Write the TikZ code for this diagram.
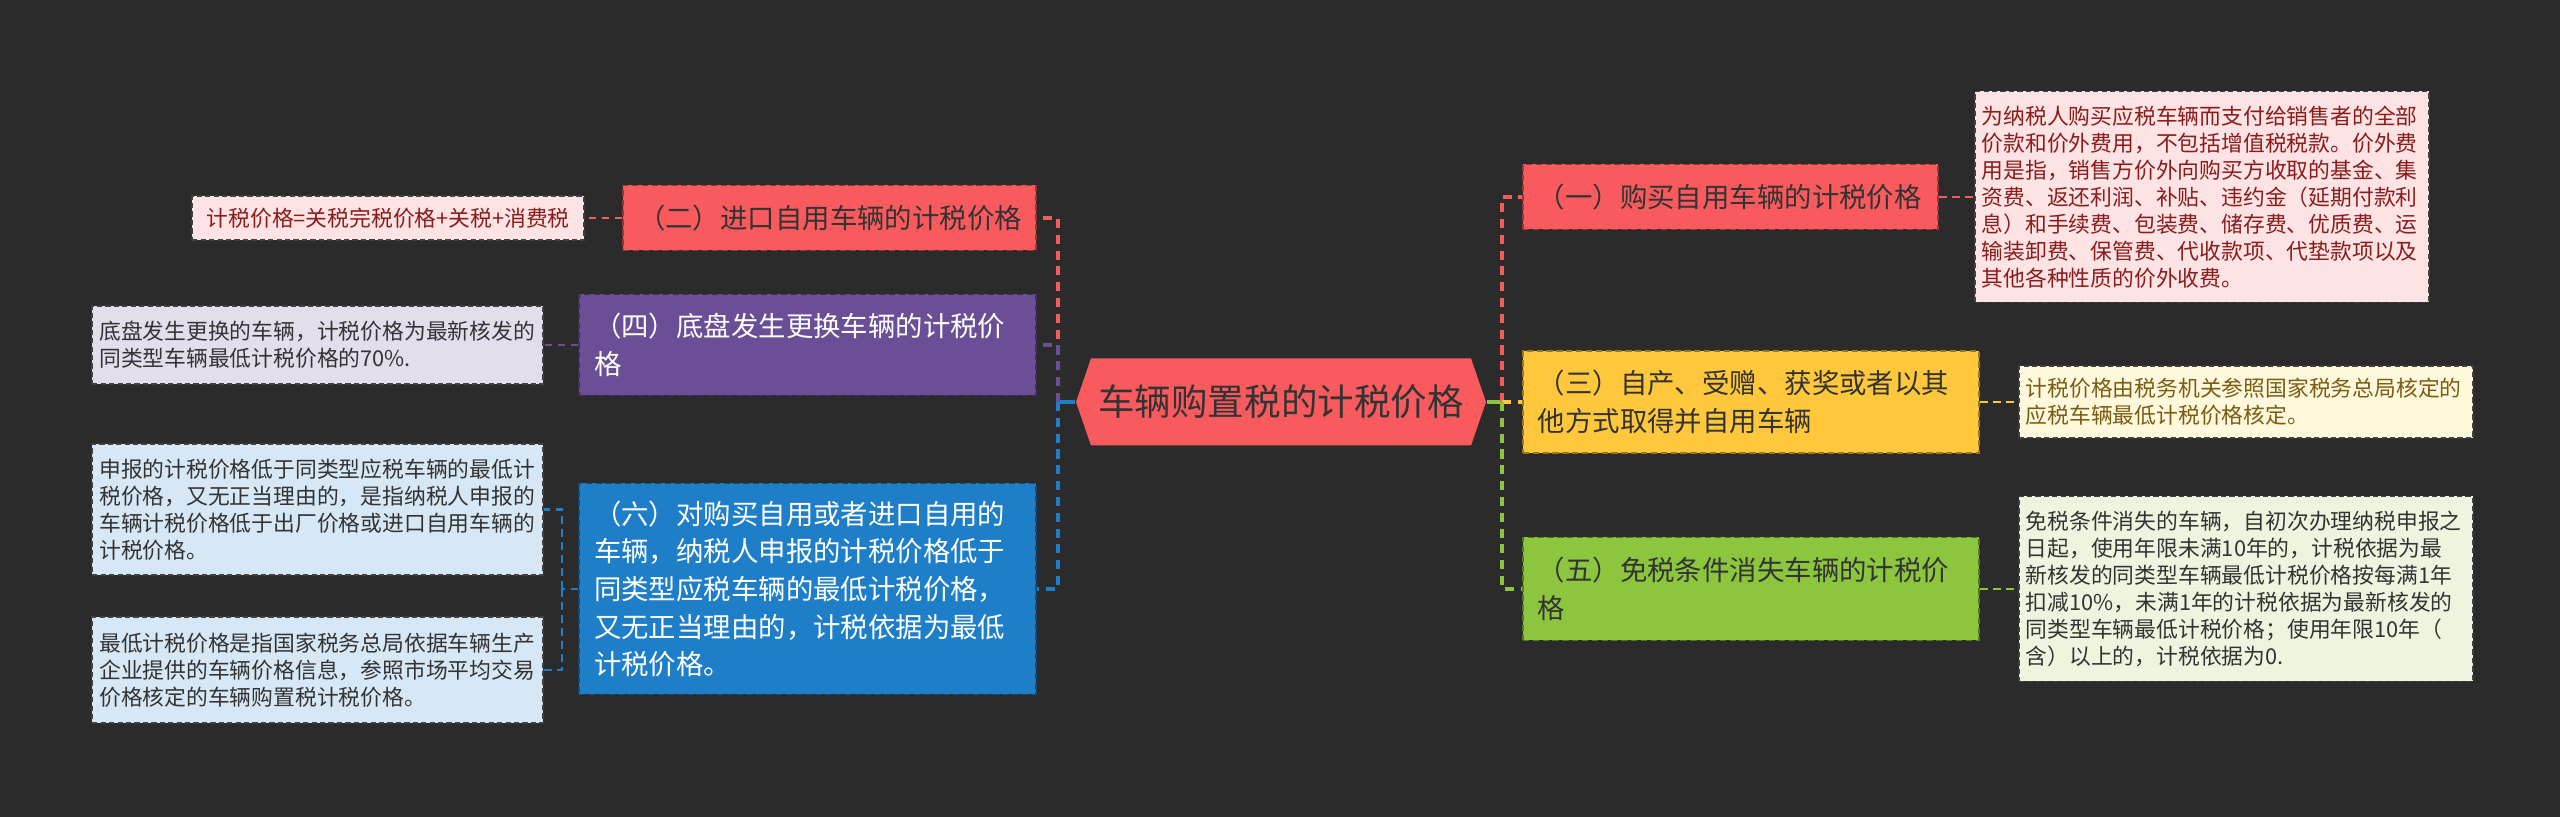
\documentclass[tikz,border=0pt]{standalone}
\usepackage{fontspec}
\newfontfamily\cjk{Noto Sans CJK SC}
\usepackage{tikz}
\usetikzlibrary{shapes.symbols, positioning}
\definecolor{cBg}{HTML}{2B2B2B}
\definecolor{cInk}{HTML}{333333}
\definecolor{cRed}{HTML}{F95A5E}
\definecolor{cYellow}{HTML}{FFC83C}
\definecolor{cGreen}{HTML}{8CC63F}
\definecolor{cPurple}{HTML}{6B4F96}
\definecolor{cBlue}{HTML}{1E7EC8}
\definecolor{cPinkBg}{HTML}{FDE3E3}
\definecolor{cPinkInk}{HTML}{8B1C1C}
\definecolor{cCreamBg}{HTML}{FFF8DC}
\definecolor{cCreamInk}{HTML}{7A5C12}
\definecolor{cLimeBg}{HTML}{EEF5DF}
\definecolor{cLilacBg}{HTML}{E4DEEC}
\definecolor{cSkyBg}{HTML}{D6E7F5}
\tikzset{
  rootnode/.style={signal, signal to=east and west, signal pointer angle=142,
                   fill=cRed, text=cInk, minimum width=4.1cm, minimum height=0.87cm,
                   inner sep=0pt, font=\cjk\fontsize{10.4}{12}\selectfont},
  brbox/.style={rectangle, fill=#1, draw=#1!60!black, dash pattern=on 1.8pt off 1pt,
                line width=0.5pt, align=left, inner xsep=0.15cm, inner ysep=0.08cm,
                text=cInk, font=\cjk\fontsize{7.8}{10.7}\selectfont},
  leafbox/.style 2 args={rectangle, fill=#1, text=#2, draw=black!75,
                dash pattern=on 1.5pt off 0.9pt, line width=0.45pt, align=left,
                inner xsep=0.07cm, inner ysep=0.06cm, text width=4.4cm,
                font=\cjk\fontsize{6.2}{7.7}\selectfont},
  link/.style={line width=1pt, dash pattern=on 2.6pt off 1.9pt},
  leaflink/.style={line width=0.75pt, dash pattern=on 2.2pt off 1.5pt},
  stem/.style={line width=1pt},
}

\begin{document}
\begin{tikzpicture}
  \fill[cBg] (0,0) rectangle (25.6,8.17);
  \useasboundingbox (0,0) rectangle (25.6,8.17);
  % root
  \node[rootnode] (root) at (12.81,4.15) {车辆购置税的计税价格};
  % right branches
  \node[brbox=cRed, anchor=west, text width=3.85cm, minimum height=0.65cm] (buy) at (15.22,6.20) {（一）购买自用车辆的计税价格};
  \node[brbox=cYellow, anchor=west, text width=4.26cm, minimum height=1.02cm] (self) at (15.22,4.15) {（三）自产、受赠、获奖或者以其\\他方式取得并自用车辆};
  \node[brbox=cGreen, anchor=west, text width=4.26cm, minimum height=1.03cm] (exempt) at (15.22,2.28) {（五）免税条件消失车辆的计税价\\格};
  % left branches
  \node[brbox=cRed, anchor=east, text width=3.83cm, minimum height=0.65cm] (imp) at (10.37,5.99) {（二）进口自用车辆的计税价格};
  \node[brbox=cPurple, text=white, anchor=east, text width=4.27cm, minimum height=1.01cm] (chassis) at (10.37,4.72) {（四）底盘发生更换车辆的计税价\\格};
  \node[brbox=cBlue, text=white, anchor=east, text width=4.27cm, minimum height=2.11cm] (low) at (10.37,2.28) {（六）对购买自用或者进口自用的\\车辆，纳税人申报的计税价格低于\\同类型应税车辆的最低计税价格，\\又无正当理由的，计税依据为最低\\计税价格。};
  % leaves right
  \node[leafbox={cPinkBg}{cPinkInk}, anchor=west, minimum height=2.11cm] (buyTxt) at (19.74,6.20) {为纳税人购买应税车辆而支付给销售者的全部\\价款和价外费用，不包括增值税税款。价外费\\用是指，销售方价外向购买方收取的基金、集\\资费、返还利润、补贴、违约金（延期付款利\\息）和手续费、包装费、储存费、优质费、运\\输装卸费、保管费、代收款项、代垫款项以及\\其他各种性质的价外收费。};
  \node[leafbox={cCreamBg}{cCreamInk}, anchor=west, minimum height=0.72cm] (selfTxt) at (20.18,4.15) {计税价格由税务机关参照国家税务总局核定的\\应税车辆最低计税价格核定。};
  \node[leafbox={cLimeBg}{cInk}, anchor=west, minimum height=1.85cm] (exemptTxt) at (20.18,2.28) {免税条件消失的车辆，自初次办理纳税申报之\\日起，使用年限未满10年的，计税依据为最\\新核发的同类型车辆最低计税价格按每满1年\\扣减10\%，未满1年的计税依据为最新核发的\\同类型车辆最低计税价格；使用年限10年（\\含）以上的，计税依据为0.};
  % leaves left
  \node[leafbox={cPinkBg}{cPinkInk}, anchor=east, text width=3.78cm, align=center, minimum height=0.44cm] (impTxt) at (5.85,5.99) {计税价格=关税完税价格+关税+消费税};
  \node[leafbox={cLilacBg}{cInk}, anchor=east, text width=4.37cm, minimum height=0.78cm] (chassisTxt) at (5.44,4.72) {底盘发生更换的车辆，计税价格为最新核发的\\同类型车辆最低计税价格的70\%.};
  \node[leafbox={cSkyBg}{cInk}, anchor=east, text width=4.37cm, minimum height=1.31cm] (lowTxtA) at (5.44,3.075) {申报的计税价格低于同类型应税车辆的最低计\\税价格，又无正当理由的，是指纳税人申报的\\车辆计税价格低于出厂价格或进口自用车辆的\\计税价格。};
  \node[leafbox={cSkyBg}{cInk}, anchor=east, text width=4.37cm, minimum height=1.06cm] (lowTxtB) at (5.44,1.47) {最低计税价格是指国家税务总局依据车辆生产\\企业提供的车辆价格信息，参照市场平均交易\\价格核定的车辆购置税计税价格。};
  % buses
  \coordinate (rbus) at (15.02,4.15);
  \coordinate (lbus) at (10.58,4.15);
  \coordinate (lowbus) at (5.62,2.28);
  % links
  \draw[stem, cGreen] (root.east) -- (rbus);
  \draw[link, cRed] (rbus) |- (buy.west);
  \draw[link, cYellow] (rbus) -- (self.west);
  \draw[link, cGreen] (rbus) |- (exempt.west);
  \draw[stem, cBlue] (root.west) -- (lbus);
  \draw[link, cRed] (lbus) |- (imp.east);
  \draw[link, cPurple] (lbus) |- (chassis.east);
  \draw[link, cBlue] (lbus) |- (low.east);
  \draw[leaflink, cRed] (buy.east) -- (buyTxt.west);
  \draw[leaflink, cYellow] (self.east) -- (selfTxt.west);
  \draw[leaflink, cGreen] (exempt.east) -- (exemptTxt.west);
  \draw[leaflink, cRed] (imp.west) -- (impTxt.east);
  \draw[leaflink, cPurple] (chassis.west) -- (chassisTxt.east);
  \draw[leaflink, cBlue] (low.west) -- (lowbus);
  \draw[leaflink, cBlue] (lowbus) |- (lowTxtA.east);
  \draw[leaflink, cBlue] (lowbus) |- (lowTxtB.east);
\end{tikzpicture}
\end{document}
